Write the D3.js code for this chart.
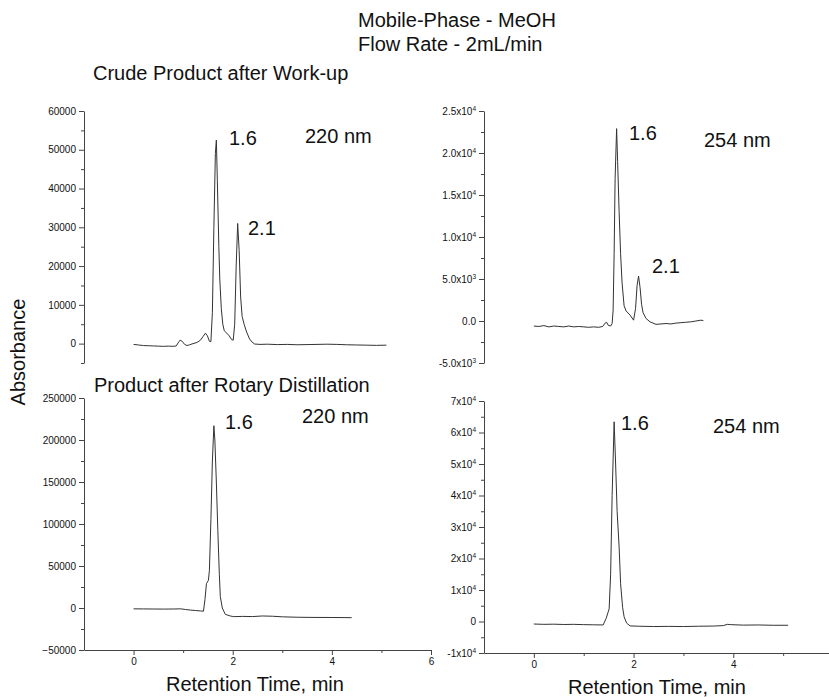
<!DOCTYPE html>
<html>
<head>
<meta charset="utf-8">
<script src="https://cdn.jsdelivr.net/npm/d3@7"></script>
<style>
  body { margin: 0; background: #fff; }
  svg { display: block; }
  text { font-family: "Liberation Sans", Arial, sans-serif; fill: #111; }
  .tick text { font-size: 10px; }
  .domain, .tick line { stroke: #444; }
</style>
</head>
<body>
<svg id="chart" width="829" height="698"></svg>
<script>
// chromatograms: [retention time (min), absorbance]
const crude220 = [
  [0.00,-200],[0.10,-350],[0.20,-500],[0.30,-550],[0.40,-600],[0.50,-650],[0.60,-700],[0.70,-650],
  [0.80,-700],[0.86,-600],[0.90,200],[0.94,900],[0.98,600],[1.03,-200],[1.08,-500],[1.13,-300],
  [1.20,0],[1.28,300],[1.35,900],[1.40,1800],[1.45,2700],[1.49,2000],[1.53,600],[1.56,500],
  [1.59,8000],[1.62,30000],[1.65,49000],[1.67,52500],[1.69,42000],[1.72,25000],[1.74,16400],
  [1.77,9000],[1.80,5000],[1.83,3300],[1.88,2700],[1.93,2000],[1.98,1000],[2.01,900],[2.04,5000],
  [2.07,20000],[2.10,31000],[2.13,24000],[2.16,12000],[2.19,7000],[2.23,5000],[2.28,3000],
  [2.34,1200],[2.39,400],[2.44,-100],[2.55,-200],[2.70,-150],[2.90,-250],[3.10,-200],[3.30,-300],
  [3.50,-250],[3.70,-200],[3.90,-150],[4.10,-200],[4.30,-300],[4.50,-350],[4.70,-400],[4.90,-450],[5.10,-400]
];
const crude254 = [
  [0.00,-600],[0.10,-650],[0.20,-550],[0.30,-700],[0.40,-600],[0.50,-650],[0.60,-700],[0.70,-600],
  [0.80,-700],[0.90,-650],[1.00,-700],[1.10,-750],[1.20,-700],[1.30,-750],[1.38,-650],[1.43,-250],
  [1.46,-150],[1.49,-500],[1.54,-600],[1.57,-300],[1.59,1300],[1.61,8000],[1.63,17000],[1.66,22900],
  [1.68,19000],[1.71,13000],[1.74,8000],[1.77,4500],[1.81,1800],[1.85,1200],[1.93,700],[2.00,100],
  [2.04,1500],[2.07,4200],[2.10,5350],[2.13,4000],[2.16,2000],[2.19,1000],[2.25,300],[2.33,-100],
  [2.45,-400],[2.55,-350],[2.65,-300],[2.75,-350],[2.85,-250],[2.95,-200],[3.05,-150],[3.15,-100],
  [3.25,0],[3.35,100],[3.40,50]
];
const rotary220 = [
  [0.00,-1000],[0.20,-1100],[0.40,-1200],[0.60,-1300],[0.80,-1200],[0.95,-1000],[1.05,-1800],
  [1.15,-2500],[1.25,-3000],[1.35,-3500],[1.41,-3800],[1.44,10000],[1.47,29000],[1.51,33000],
  [1.53,45000],[1.56,105000],[1.59,175000],[1.62,217000],[1.64,200000],[1.67,150000],[1.70,92000],
  [1.73,40000],[1.75,13500],[1.79,0],[1.85,-7500],[1.95,-9500],[2.02,-10300],[2.20,-10000],
  [2.40,-10200],[2.60,-9500],[2.80,-9800],[3.00,-10500],[3.30,-11000],[3.60,-11200],[4.00,-11300],[4.40,-11500]
];
const rotary254 = [
  [0.00,-800],[0.20,-900],[0.40,-850],[0.60,-950],[0.80,-900],[1.00,-1000],[1.20,-1050],[1.39,-1100],
  [1.45,1000],[1.51,4000],[1.54,15000],[1.57,40000],[1.61,63400],[1.64,50000],[1.67,35000],
  [1.71,23700],[1.74,12000],[1.78,4500],[1.81,1500],[1.86,-500],[1.93,-1400],[2.10,-1500],
  [2.40,-1600],[2.70,-1550],[3.00,-1600],[3.30,-1500],[3.60,-1450],[3.80,-1300],[3.88,-900],
  [3.95,-1000],[4.20,-1150],[4.50,-1100],[4.80,-1200],[5.10,-1200]
];

// axis ticks and labels
const timeTicksLeft = [0, 2, 4, 6];
const timeTicksRight = [0, 2, 4];
const timeMinor = [1, 3, 5];
const crude220Ticks = [0, 10000, 20000, 30000, 40000, 50000, 60000];
const crude254Ticks = [-5000, 0, 5000, 10000, 15000, 20000, 25000];
const crude254Labels = [["-5.0x10","3"],["0.0",""],["5.0x10","3"],["1.0x10","4"],["1.5x10","4"],["2.0x10","4"],["2.5x10","4"]];
const rotary220Ticks = [-50000, 0, 50000, 100000, 150000, 200000, 250000];
const rotary254Ticks = [-10000, 0, 10000, 20000, 30000, 40000, 50000, 60000, 70000];
const rotary254Labels = [["-1x10","4"],["0",""],["1x10","4"],["2x10","4"],["3x10","4"],["4x10","4"],["5x10","4"],["6x10","4"],["7x10","4"]];

const svg = d3.select("#chart");

function panel(o) {
  const x = d3.scaleLinear().domain([-1, 6]).range(o.xr);
  const y = d3.scaleLinear().domain(o.yd).range(o.yr);
  const g = svg.append("g");

  // minor ticks first
  const minor = d3.range(o.yd[0], o.yd[1] + 1, o.minorStep).filter(v => !o.ticks.includes(v));
  g.append("g").attr("transform", `translate(${o.xr[0]},0)`)
    .call(d3.axisLeft(y).tickValues(minor).tickSize(3).tickFormat(""))
    .call(a => a.select(".domain").remove());

  const ya = g.append("g").attr("transform", `translate(${o.xr[0]},0)`)
    .call(d3.axisLeft(y).tickValues(o.ticks).tickSize(5).tickPadding(3).tickSizeOuter(0)
      .tickFormat(o.labels ? "" : d3.format("d")));
  if (o.labels) {
    ya.selectAll(".tick text").each(function(d, i) {
      const t = d3.select(this);
      const lab = o.labels[i];
      t.append("tspan").text(lab[0]);
      if (lab[1]) t.append("tspan").attr("dy", -4).attr("font-size", 6.5).text(lab[1]);
    });
  }

  if (o.xticks) {
    g.append("g").attr("transform", `translate(0,${o.yr[0]})`)
      .call(d3.axisBottom(x).tickValues(timeMinor).tickSize(3).tickFormat(""))
      .call(a => a.select(".domain").remove());
    g.append("g").attr("transform", `translate(0,${o.yr[0]})`)
      .call(d3.axisBottom(x).tickValues(o.xticks).tickSize(5).tickPadding(3).tickSizeOuter(0)
        .tickFormat(d3.format("d")));
  }

  g.append("path")
    .datum(o.data)
    .attr("fill", "none")
    .attr("stroke", "#333")
    .attr("stroke-width", 1)
    .attr("d", d3.line().x(d => x(d[0])).y(d => y(d[1])));
}

panel({ data: crude220, xr: [84, 431], yr: [363, 111], yd: [-5000, 60000], ticks: crude220Ticks, minorStep: 5000 });
panel({ data: crude254, xr: [484, 833], yr: [363, 111], yd: [-5000, 25000], ticks: crude254Ticks, labels: crude254Labels, minorStep: 2500 });
panel({ data: rotary220, xr: [84, 431], yr: [650, 398], yd: [-50000, 250000], ticks: rotary220Ticks, minorStep: 25000, xticks: timeTicksLeft });
panel({ data: rotary254, xr: [484, 833], yr: [653, 401], yd: [-10000, 70000], ticks: rotary254Ticks, labels: rotary254Labels, minorStep: 5000, xticks: timeTicksRight });

function label(txt, x, y, size) {
  svg.append("text").attr("x", x).attr("y", y).attr("font-size", size || 20).text(txt);
}
label("Mobile-Phase - MeOH", 358, 27);
label("Flow Rate - 2mL/min", 358, 51);
label("Crude Product after Work-up", 93, 80);
label("Product after Rotary Distillation", 94, 392);

label("1.6", 229, 145); label("220 nm", 305, 143); label("2.1", 248, 235);
label("1.6", 629, 140); label("254 nm", 704, 147); label("2.1", 652, 273);
label("1.6", 225, 429); label("220 nm", 302, 423);
label("1.6", 621, 430); label("254 nm", 713, 433);

label("Retention Time, min", 166, 691);
label("Retention Time, min", 568, 694);

svg.append("text")
  .attr("transform", "translate(25,352) rotate(-90)")
  .attr("text-anchor", "middle")
  .attr("font-size", 20)
  .text("Absorbance");
</script>
</body>
</html>
